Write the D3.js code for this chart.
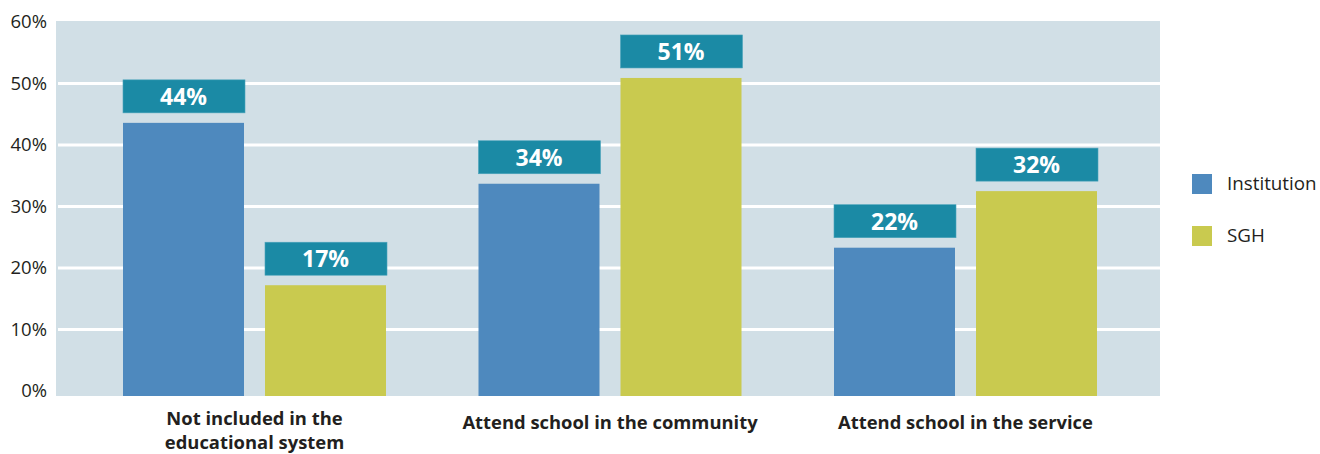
<!DOCTYPE html>
<html>
<head>
<meta charset="utf-8">
<script src="https://cdn.jsdelivr.net/npm/d3@7"></script>
<style>
  body { margin: 0; background: #fff; }
  svg { display: block; font-family: "Open Sans", sans-serif; }
</style>
</head>
<body>
<svg id="chart" width="1320" height="454"></svg>
<script>
"use strict";

// categories and series
var categories = ["Not included in the\neducational system", "Attend school in the community", "Attend school in the service"];
var series = ["Institution", "SGH"];
var institutionValues = [43.6, 33.7, 23.3];
var sghValues = [17.2, 50.9, 32.5];
var institutionLabels = ["44%", "34%", "22%"];
var sghLabels = ["17%", "51%", "32%"];
var yTicks = [0, 10, 20, 30, 40, 50, 60];

var colors = { Institution: "#4e89be", SGH: "#c9ca4f" };

var svg = d3.select("#chart");

var plot = { left: 56, right: 1160, top: 21, bottom: 396 };

var y = d3.scaleLinear().domain([0, 60]).range([391, 22]);
var x0 = d3.scaleBand().domain(categories).range([76.75, 1143.25]);
var x1 = d3.scaleBand().domain(series).range([46.25, 309.25]).paddingInner(21 / 142);

// background
svg.append("rect")
  .attr("x", plot.left).attr("y", plot.top)
  .attr("width", plot.right - plot.left).attr("height", plot.bottom - plot.top)
  .attr("fill", "#d1dfe6");

// gridlines
svg.append("g").selectAll("line")
  .data(yTicks.filter(function (t) { return t > 0 && t < 60; }))
  .join("line")
  .attr("x1", plot.left + 2).attr("x2", plot.right)
  .attr("y1", function (d) { return y(d); }).attr("y2", function (d) { return y(d); })
  .attr("stroke", "#fff").attr("stroke-width", 3);

// y axis
var yAxis = d3.axisLeft(y).tickValues(yTicks).tickSize(0).tickPadding(9)
  .tickFormat(function (d) { return d + "%"; });
var yg = svg.append("g").attr("transform", "translate(" + plot.left + ",0)").call(yAxis);
yg.select(".domain").remove();
yg.selectAll("text").attr("font-size", 18.5).attr("fill", "#231f20")
  .attr("font-family", "Open Sans, sans-serif");

// bars
var rows = categories.map(function (c, i) {
  return [
    { cat: c, key: "Institution", value: institutionValues[i], label: institutionLabels[i] },
    { cat: c, key: "SGH", value: sghValues[i], label: sghLabels[i] }
  ];
});

var groups = svg.append("g").selectAll("g")
  .data(rows).join("g")
  .attr("transform", function (d) { return "translate(" + x0(d[0].cat) + ",0)"; });

groups.selectAll("rect.bar")
  .data(function (d) { return d; }).join("rect")
  .attr("class", "bar")
  .attr("x", function (d) { return x1(d.key); })
  .attr("y", function (d) { return y(d.value); })
  .attr("width", x1.bandwidth())
  .attr("height", function (d) { return plot.bottom - y(d.value); })
  .attr("fill", function (d) { return colors[d.key]; });

// value boxes
groups.selectAll("rect.box")
  .data(function (d) { return d; }).join("rect")
  .attr("class", "box")
  .attr("x", function (d) { return x1(d.key); })
  .attr("y", function (d) { return y(d.value) - 43; })
  .attr("width", x1.bandwidth() + 1)
  .attr("height", 33)
  .attr("fill", "#1b8aa5")
  .attr("stroke", "#4aa3bb").attr("stroke-width", 0.6);

groups.selectAll("text.val")
  .data(function (d) { return d; }).join("text")
  .attr("class", "val")
  .attr("x", function (d) { return x1(d.key) + x1.bandwidth() / 2; })
  .attr("y", function (d) { return y(d.value) - 18; })
  .attr("text-anchor", "middle")
  .attr("font-size", 23).attr("font-weight", "bold").attr("fill", "#fff")
  .text(function (d) { return d.label; });

// category labels
var catLabels = svg.append("g").selectAll("text")
  .data(categories).join("text")
  .attr("x", function (d) { return x0(d) + x0.bandwidth() / 2; })
  .attr("y", function (d) { return 429 - (d.split("\n").length - 1) * 4; })
  .attr("text-anchor", "middle")
  .attr("font-size", 18.4).attr("font-weight", "bold").attr("fill", "#231f20");
catLabels.each(function (d) {
  var t = d3.select(this);
  d.split("\n").forEach(function (line, i) {
    t.append("tspan").attr("x", t.attr("x")).attr("dy", i === 0 ? 0 : 24).text(line);
  });
});

// legend
var legend = svg.append("g").selectAll("g")
  .data(series).join("g")
  .attr("transform", function (d, i) { return "translate(1192," + (174 + i * 52) + ")"; });
legend.append("rect").attr("width", 20).attr("height", 20)
  .attr("fill", function (d) { return colors[d]; });
legend.append("text").attr("x", 35).attr("y", 16)
  .attr("font-size", 18.8).attr("fill", "#231f20")
  .text(function (d) { return d; });
</script>
</body>
</html>
